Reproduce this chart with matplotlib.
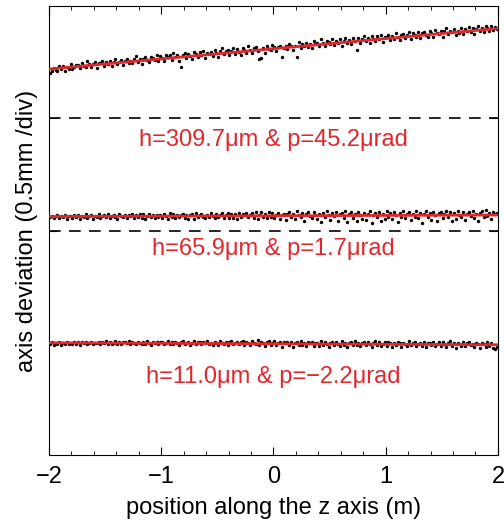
import numpy as np
import matplotlib
matplotlib.use("Agg")
import matplotlib.pyplot as plt
from matplotlib.ticker import MultipleLocator

plt.rcParams["font.family"] = ["Liberation Sans", "DejaVu Sans"]

# ─── Datos ─────────────────────────────────────────────────────────
# fit parameters (h in um, p in urad), reference levels (mm), label heights
h_um = [309.7, 65.9, 11.0]
p_urad = [45.2, 1.7, -2.2]
ref_mm = [0.5, 0.0, -0.515]
label_y = [0.403, -0.082, -0.653]
labels = ["h=309.7μm & p=45.2μrad",
          "h=65.9μm & p=1.7μrad",
          "h=11.0μm & p=\u22122.2μrad"]

# residuals of measured points around each fit (um), ordered along z
res1 = [-18, -10, 4, -8, -14, 10, -3, 6, -15, 2, -6, 12, -9, -3, 8, 5, -10, 14, 0, -5,
        20, 6, -9, 3, 11, -14, 7, 5, 16, -7, 9, -2, 13, -11, 4, 18, -6, 1, 10, -13,
        7, 15, -4, 3, -8, 12, 22, -4, 9, -15, 6, 17, 0, -10, 14, 8, -3, 19, -7, 11,
        2, -12, 16, 5, 13, -9, 21, 4, 10, -16, -44, 8, 15, -5, 12, 3, -11, 18, 6, -8,
        14, 0, 20, -13, 9, 4, 11, -6, 17, 2, -14, 10, 23, -3, 8, 15, -10, 5, 19, -7,
        12, 1, -16, 14, 6, -9, 21, 3, -12, 11, 17, -4, -42, -36, 8, -15, 13, 2, -6, 18,
        7, -11, 4, 10, -40, -2, 9, -7, 16, 3, -12, 5, -44, 20, -8, 11, 0, 14, -5, 8,
        -13, 17, 2, 9, -6, 22, 4, -10, 13, 6, -3, 18, -9, 11, 1, 15, -14, 7, 19, -4,
        10, -8, 14, 3, -40, 12, -11, 6, 21, -2, 9, -15, 16, 4, -7, 13, 0, 20, -12, 8,
        5, 17, -9, 11, -3, 23, 2, -14, 10, 15, -6, 7, 19, -10, 12, 3, -5, 18, -13, 9,
        14, 1, -8, 16, 6, -11, 20, 4, -2, 13, -15, 8, 22, -6, 10, 3, 17, -12, 7, -4,
        15, -9, 11, 2, 19, -7, 13, -14, 6, 21, -3, 9, -10, 16, 4, -8, 12, -5, 7, -2]
res2 = [-4, 3, -8, 1, 5, -6, 2, -3, 7, -9, 0, 4, -5, 8, -2, 6, -10, 3, -1, 9,
        -7, 2, 5, -12, 4, -3, 10, -6, 1, 7, -4, 12, -8, 3, 6, -2, -11, 9, 2, -5,
        8, -7, 4, 0, 11, -9, 5, -3, 10, -6, 8, -14, 3, 12, -4, 7, -10, 6, -2, 5,
        -8, 10, 2, -12, 13, -5, 9, -9, 6, -4, 4, 11, -7, 3, -13, 3, 9, -12, 14, -6,
        5, 8, -3, -10, 5, -6, 12, 2, -9, 10, -4, 6, 15, -8, 3, 12, -9, 7, -11, 7,
        -14, 11, -5, 9, 2, 13, -7, 4, 11, -8, 16, -12, 4, 15, -6, 8, -10, 18, -4, 12,
        -9, 5, 14, -16, 3, 10, -20, 7, 17, -5, 9, -13, 20, 2, -8, 12, -24, 6, 15, -3,
        -11, 18, 4, -15, 9, -28, 13, -6, 21, 3, -18, 10, -4, 16, -22, 7, 12, -9, 19, -30,
        5, 14, -12, 8, -26, 17, 2, -15, 10, -20, 6, 19, -32, 3, 12, -9, 16, -26, 7, -14,
        21, -5, 9, -18, 13, 2, -30, 11, -8, 18, -12, 4, 15, -22, 8, -6, 20, -10, 12, -34,
        6, 17, -8, 11, -19, 14, 3, -27, 9, 16, -12, 5, 20, -7, 13, -24, 8, -15, 18, 2,
        -10, 12, -21, 7, 15, -6, 19, -13, 4, -28, 11, 16, -9, 22, -4, 8, -17, 13, 6, 10]
res3 = [-5, 2, -8, 0, -6, 3, -9, 1, -4, 4, -7, 0, -3, 5, -6, 2, -8, 4, -2, 3,
        -5, 1, 6, -4, 2, -1, 5, -6, 3, 0, 7, -3, 4, -5, 2, 8, -2, 5, -4, 3,
        6, -1, 9, -3, 4, 1, -5, 7, 2, -2, 5, -4, 8, 3, -6, 6, 2, 4, -3, 6,
        7, -5, 3, 9, -4, 5, -2, 8, 1, -6, 4, 10, -3, 2, 6, -5, 3, 9, -2, 5,
        8, -4, 6, 1, 11, -3, 4, -7, 7, 2, -5, 10, 3, -2, 8, -6, 5, 12, -1, 4,
        9, -3, 6, 14, -5, 7, 2, -8, 10, 4, -2, 18, -6, 8, 3, -10, 6, 11, -4, 5,
        13, -7, 4, 9, -12, 6, 2, 10, -5, 7, -14, 3, 8, -6, 12, -3, 5, -9, 7, 2,
        10, -11, 6, 3, -7, 14, -4, 8, 1, -13, 5, 9, -6, 11, 2, -8, 12, -4, 6, -15,
        4, 9, -6, 13, -3, 7, -10, 5, 11, -5, 8, 2, -12, 6, 14, -4, 9, -8, 3, 10,
        -6, 12, 4, -11, 7, -3, 10, 5, -14, 8, 2, -7, 13, -4, 6, 11, -9, 3, 8, -5,
        10, -12, 5, 7, -3, 13, -8, 4, 9, -6, 11, 2, -10, 7, 14, -5, 6, -13, 8, 3,
        -4, 10, -8, 6, 12, -3, 5, -11, 9, 2, -16, 7, 4, -9, 11, -6, 8, -14, -18, -12]
residuals = [res1, res2, res3]

RED = "#e3262b"

# ─── Figura ────────────────────────────────────────────────────────
fig = plt.figure(figsize=(5.04, 5.22), dpi=100)
ax = fig.add_axes([0.097, 0.128, 0.891, 0.8605])

zfit = np.array([-2.0, 2.0])
for h, p, ref, ly, lab, res in zip(h_um, p_urad, ref_mm, label_y,
                                   labels, residuals):
    z = np.linspace(-1.99, 1.99, len(res))
    fit = ref + (h + p * z) / 1000.0
    ax.scatter(z, fit + np.array(res) / 1000.0, s=6, c="black",
               lw=0, zorder=2)
    ax.plot(zfit, ref + (h + p * zfit) / 1000.0, color=RED, lw=2, zorder=3)
    ax.text(0.0, ly, lab, color=RED, fontsize=17, ha="center", va="center")

for ref in ref_mm[:2]:
    ax.axhline(ref, color="black", lw=1.2, dashes=(7, 5), zorder=1)

ax.set_xlim(-2, 2)
ax.set_ylim(-1.0, 1.0)
ax.xaxis.set_minor_locator(MultipleLocator(0.2))
ax.set_xticks([-2, -1, 0, 1, 2])
ax.set_xticklabels(["\u22122", "\u22121", "0", "1", "2"])
ax.set_yticks([0.5, 0.0])
ax.set_yticklabels([])
ax.tick_params(which="both", direction="in", top=True, right=True,
               labelsize=17, pad=8)
ax.tick_params(which="major", length=6)
ax.tick_params(which="minor", length=3)

ax.set_xlabel("position along the z axis (m)", fontsize=17, labelpad=6)
ax.set_ylabel("axis deviation (0.5mm /div)", fontsize=17, labelpad=0)

fig.savefig("out.png", dpi=100)
